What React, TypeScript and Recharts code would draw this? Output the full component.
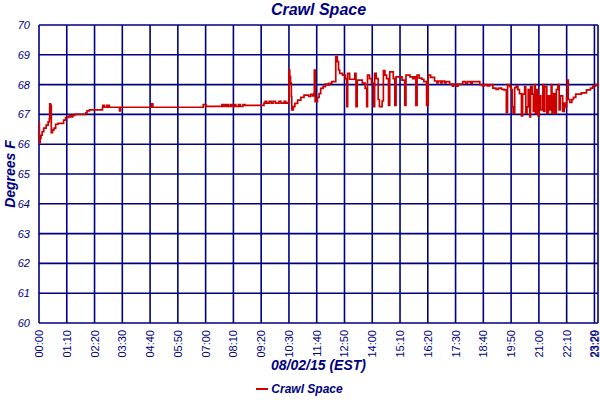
import { LineChart, Line, XAxis, YAxis, CartesianGrid, Legend } from 'recharts';

// sample time (minutes after midnight) and reading
const minutes = [
  0, 1, 3, 5, 8, 12, 18, 23, 26, 27, 29, 30, 31, 34, 38, 42, 48, 62, 67, 73, 77, 81, 85, 90, 118, 121, 127,
  160, 161, 165, 171, 172, 175, 177, 203, 205, 284, 287, 414, 421, 461, 463, 467, 470, 474, 478, 483, 487,
  492, 496, 503, 507, 514, 519, 567, 570, 574, 580, 585, 590, 596, 605, 610, 618, 622, 627,
  630, 632, 634, 636, 637, 641, 645, 652, 660, 668, 680, 685, 690, 693, 694, 696, 702, 706, 710, 716, 722,
  728, 731, 738, 748, 752, 755, 758, 765, 772, 776, 778, 783, 796, 799, 802, 810, 815, 822, 826, 828, 833,
  838, 843, 846, 850, 855, 858, 865, 868, 872, 876, 881, 884, 893, 897, 900, 908, 915, 922, 925, 935, 942,
  946, 950, 953, 958, 965, 970, 977, 981, 987, 997, 1003, 1006, 1012, 1016, 1022, 1026,
  1035, 1042, 1045, 1052, 1056, 1068, 1075, 1080, 1088, 1092, 1100, 1111, 1118, 1122, 1130, 1136, 1144,
  1152, 1158, 1166, 1172,
  1178, 1181, 1186, 1190, 1193, 1195, 1199, 1203, 1207, 1211, 1216, 1219, 1224, 1227, 1230, 1233, 1237,
  1239, 1243, 1246, 1249, 1251, 1254, 1258, 1261, 1265, 1270, 1272, 1275, 1280, 1284, 1287, 1291, 1293,
  1297, 1301, 1304, 1308, 1311, 1314, 1320, 1324, 1327, 1330, 1332, 1334, 1338, 1343, 1347, 1353, 1367,
  1380, 1390, 1396, 1403, 1409,
];

const degrees = [
  66.7, 66.05, 66.2, 66.3, 66.42, 66.54, 66.64, 66.75, 66.85, 67.35, 67.22, 67.3, 66.39, 66.48, 66.54, 66.67,
  66.7, 66.81, 66.89, 66.92, 66.97, 66.92, 66.97, 67.0, 67.05, 67.12, 67.15,
  67.24, 67.3, 67.24, 67.3, 67.24, 67.3, 67.24, 67.12, 67.24, 67.35, 67.24, 67.33, 67.27, 67.33, 67.27,
  67.33, 67.27, 67.33, 67.27, 67.33, 67.27, 67.33, 67.27, 67.33, 67.27, 67.33, 67.3, 67.38, 67.44, 67.38,
  67.44, 67.38, 67.44, 67.38, 67.44, 67.38, 67.44, 67.38, 67.4,
  68.49, 68.27, 68.05, 67.6, 67.15, 67.26, 67.37, 67.48, 67.57, 67.65, 67.6, 67.67, 67.62, 67.7, 68.49,
  67.43, 67.57, 67.7, 67.87, 67.93, 68.02, 67.98, 68.04, 68.1, 68.94, 68.77, 68.49, 68.38, 68.32, 68.2,
  67.26, 68.38, 68.18, 68.38, 67.26, 68.15, 68.15, 68.05, 67.87, 67.26, 68.32, 68.2, 68.05, 67.26, 68.38,
  68.2, 67.5, 67.26, 67.45, 68.47, 68.32, 68.2, 67.3, 68.43, 68.2, 67.3, 68.26, 68.26, 68.15, 67.3, 68.32,
  68.26, 68.2, 68.26, 67.3, 68.32, 68.22, 68.18, 68.1, 67.3, 68.32, 68.24, 68.12, 68.06, 68.12, 68.06,
  68.12, 68.06, 68.1,
  68.02, 67.95, 68.02, 67.95, 68.02, 68.1, 68.04, 68.1, 68.04, 68.1, 68.1, 68.0, 67.96, 68.0, 67.96, 68.0,
  67.88, 67.84, 67.88, 67.84, 67.82,
  67.06, 68.0, 67.93, 67.83, 67.25, 67.04, 67.9, 67.95, 67.83, 67.7, 66.95, 67.68, 67.93, 67.04, 67.25,
  67.83, 66.92, 67.93, 67.68, 67.1, 68.0, 67.04, 67.83, 66.95, 67.62, 67.15, 68.0, 67.1, 67.93, 67.04,
  67.62, 67.15, 68.0, 67.04, 67.7, 67.04, 67.83, 68.0, 67.15, 67.62, 67.1, 67.38, 67.25, 67.57, 68.15,
  67.5, 67.4, 67.5, 67.57, 67.68, 67.72, 67.82, 67.88, 67.95, 68.0, 68.05,
];

const xTicks = [0, 70, 140, 210, 280, 350, 420, 490, 560, 630, 700, 770, 840, 910, 980, 1050, 1120, 1190, 1260, 1330, 1400, 1409];
const yTicks = [60, 61, 62, 63, 64, 65, 66, 67, 68, 69, 70];

const data = minutes.map((m, i) => ({ m, temp: degrees[i] }));

const NAVY = '#000080';
const RED = '#cc0000';
const tickFont = '"Liberation Sans Narrow", "Liberation Sans", Arial, sans-serif';
const labelFont = '"Liberation Sans", Arial, sans-serif';

const hhmm = (m: number) =>
  `${String(Math.floor(m / 60)).padStart(2, '0')}:${String(m % 60).padStart(2, '0')}`;

const XTick = ({ x, y, payload }: any) => {
  const ty = y + 5;
  // last label sits on the right edge, nudge it in so it is not clipped
  const tx = payload.value === xTicks[xTicks.length - 1] ? x - 3 : x;
  return (
    <text
      x={tx}
      y={ty}
      dy={4}
      textAnchor="end"
      transform={`rotate(-90, ${tx}, ${ty})`}
      fill={NAVY}
      fontSize={11}
      fontFamily={tickFont}
    >
      {hhmm(payload.value)}
    </text>
  );
};

const YTick = ({ x, y, payload }: any) => (
  <text x={x - 7} y={y} dy={4} textAnchor="end" fill={NAVY} fontSize={11} fontStyle="italic" fontFamily={tickFont}>
    {payload.value}
  </text>
);

const LegendBox = () => (
  <div style={{ display: 'flex', justifyContent: 'center', alignItems: 'center', height: 22 }}>
    <svg width={14} height={10}>
      <line x1={1} y1={5} x2={13} y2={5} stroke={RED} strokeWidth={2} />
    </svg>
    <span style={{ marginLeft: 2, color: NAVY, fontFamily: labelFont, fontStyle: 'italic', fontWeight: 'bold', fontSize: 12 }}>
      Crawl Space
    </span>
  </div>
);

export default function App() {
  return (
    <div style={{ position: 'absolute', left: 0, top: 0, width: 600, height: 400, background: '#fff' }}>
      <div
        style={{
          position: 'absolute', left: 39, top: 0, width: 559, textAlign: 'center',
          color: NAVY, fontFamily: labelFont, fontStyle: 'italic', fontWeight: 'bold', fontSize: 16, lineHeight: '20px',
        }}
      >
        Crawl Space
      </div>
      <LineChart width={600} height={400} data={data} margin={{ top: 25, right: 2, left: 0, bottom: 0 }}>
        <CartesianGrid stroke={NAVY} strokeWidth={1.6} />
        <XAxis
          dataKey="m"
          type="number"
          domain={[0, 1409]}
          ticks={xTicks}
          interval={0}
          height={55}
          axisLine={false}
          tickLine={false}
          tickSize={0}
          tick={<XTick />}
          label={({ viewBox }: any) => (
            <text
              x={viewBox.x + viewBox.width / 2}
              y={viewBox.y + 47}
              textAnchor="middle"
              fill={NAVY}
              fontSize={14}
              fontStyle="italic"
              fontWeight="bold"
              fontFamily={labelFont}
            >
              08/02/15 (EST)
            </text>
          )}
        />
        <YAxis
          type="number"
          domain={[60, 70]}
          ticks={yTicks}
          interval={0}
          width={39}
          axisLine={false}
          tickLine={false}
          tickSize={0}
          tick={<YTick />}
          label={({ viewBox }: any) => {
            const cx = viewBox.x + 15;
            const cy = viewBox.y + viewBox.height / 2;
            return (
              <text
                x={cx}
                y={cy}
                textAnchor="middle"
                transform={`rotate(-90, ${cx}, ${cy})`}
                fill={NAVY}
                fontSize={14}
                fontStyle="italic"
                fontWeight="bold"
                fontFamily={labelFont}
              >
                Degrees F
              </text>
            );
          }}
        />
        <Legend verticalAlign="bottom" align="center" height={22} content={<LegendBox />} />
        <Line
          type="stepAfter"
          dataKey="temp"
          stroke={RED}
          strokeWidth={1.7}
          dot={false}
          isAnimationActive={false}
        />
      </LineChart>
    </div>
  );
}
